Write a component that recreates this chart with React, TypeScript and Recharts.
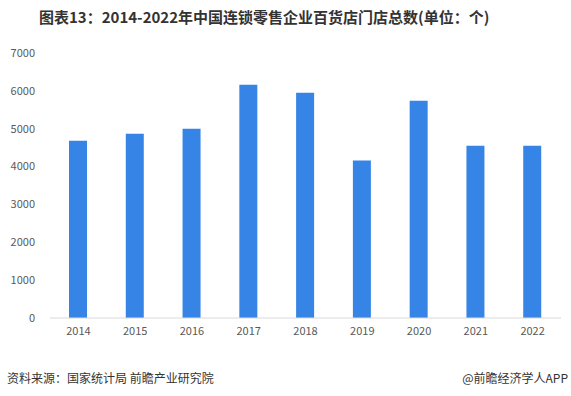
import { BarChart, Bar, XAxis, YAxis } from "recharts";

const years = ["2014", "2015", "2016", "2017", "2018", "2019", "2020", "2021", "2022"];
const storeCounts = [4680, 4870, 5000, 6160, 5950, 4160, 5740, 4550, 4550];
const yTicks = [0, 1000, 2000, 3000, 4000, 5000, 6000, 7000];

const title = "图表13：2014-2022年中国连锁零售企业百货店门店总数(单位：个)";
const source = "资料来源：国家统计局 前瞻产业研究院";
const credit = "@前瞻经济学人APP";

const rows = years.map((y, i) => ({ year: y, value: storeCounts[i] }));

const font = '"Noto Sans CJK SC", "Noto Sans", sans-serif';

export default function App() {
  return (
    <div
      style={{
        position: "absolute",
        left: 0,
        top: 0,
        width: 571,
        height: 396,
        background: "#fff",
        fontFamily: font,
      }}
    >
      <div
        style={{
          position: "absolute",
          left: 39,
          top: 6,
          fontSize: 15,
          fontWeight: 700,
          color: "#333",
          whiteSpace: "nowrap",
        }}
      >
        {title}
      </div>
      <BarChart
        width={571}
        height={396}
        data={rows}
        margin={{ top: 53, right: 10, left: 0, bottom: 48 }}
      >
        <XAxis
          dataKey="year"
          axisLine={{ stroke: "#d9d9d9" }}
          tickLine={false}
          tickMargin={3}
          height={30}
          tick={{ fontSize: 11, fill: "#595959", fontFamily: font }}
        />
        <YAxis
          width={50}
          domain={[0, 7000]}
          ticks={yTicks}
          axisLine={false}
          tickLine={false}
          tickMargin={9}
          tick={{ fontSize: 11, fill: "#595959", fontFamily: font }}
        />
        <Bar dataKey="value" fill="#3584e6" barSize={18} isAnimationActive={false} />
      </BarChart>
      <div
        style={{
          position: "absolute",
          left: 7,
          top: 369,
          fontSize: 12,
          color: "#333",
          whiteSpace: "nowrap",
        }}
      >
        {source}
      </div>
      <div
        style={{
          position: "absolute",
          right: 3,
          top: 369,
          fontSize: 12,
          color: "#333",
          whiteSpace: "nowrap",
        }}
      >
        {credit}
      </div>
    </div>
  );
}
